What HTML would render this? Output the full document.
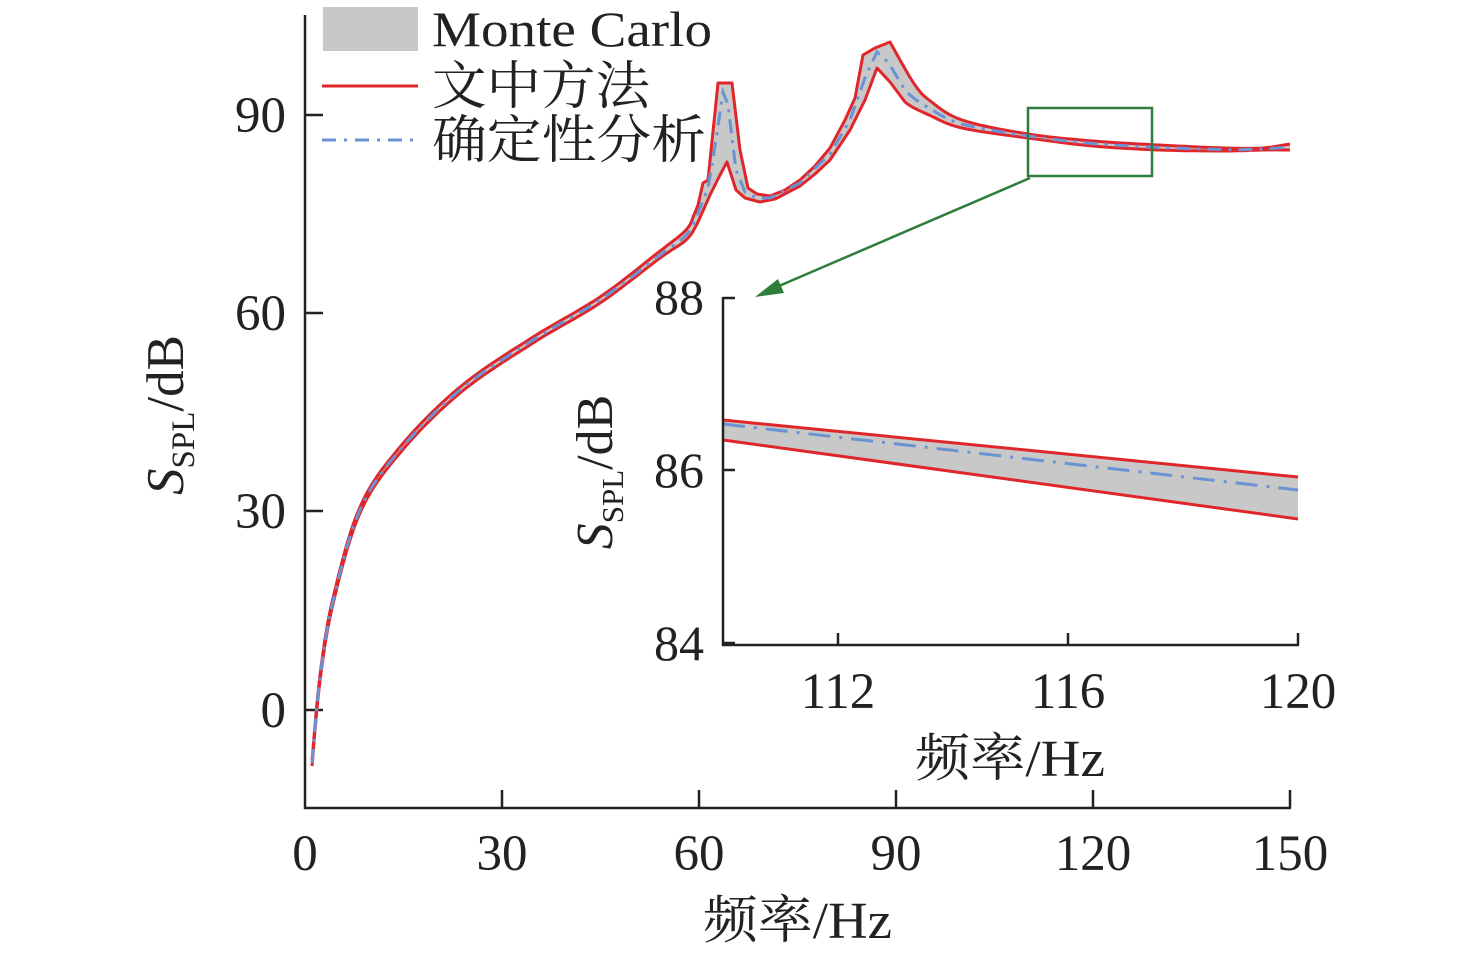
<!DOCTYPE html>
<html><head><meta charset="utf-8"><style>
html,body{margin:0;padding:0;background:#fff;}
svg{display:block;}
text{font-family:"Liberation Serif","Noto Serif CJK SC",serif;fill:#222;}
</style></head><body>
<svg id="s" width="1476" height="957" viewBox="0 0 1476 957" xmlns="http://www.w3.org/2000/svg">
<g stroke="#222" stroke-width="2.5" fill="none">
<line x1="305" y1="15" x2="305" y2="809"/>
<line x1="304" y1="808" x2="1291" y2="808"/>
<line x1="502" y1="808" x2="502" y2="790"/>
<line x1="699" y1="808" x2="699" y2="790"/>
<line x1="896" y1="808" x2="896" y2="790"/>
<line x1="1093" y1="808" x2="1093" y2="790"/>
<line x1="1290" y1="808" x2="1290" y2="790"/>
<line x1="305" y1="710" x2="323" y2="710"/>
<line x1="305" y1="511" x2="323" y2="511"/>
<line x1="305" y1="313" x2="323" y2="313"/>
<line x1="305" y1="115" x2="323" y2="115"/>
</g>
<g font-size="51" text-anchor="middle">
<text x="305" y="870">0</text><text x="502" y="870">30</text><text x="699" y="870">60</text>
<text x="896" y="870">90</text><text x="1093" y="870">120</text><text x="1290" y="870">150</text>
</g>
<g font-size="51" text-anchor="end">
<text x="286" y="727">0</text><text x="286" y="528">30</text><text x="286" y="330">60</text><text x="286" y="132">90</text>
</g>
<text x="703" y="938" font-size="52" textLength="189" lengthAdjust="spacingAndGlyphs">频率/Hz</text>
<text transform="translate(183,415) rotate(-90)" font-size="53" text-anchor="middle"><tspan font-style="italic">S</tspan><tspan font-size="33" dy="11">SPL</tspan><tspan dy="-11">/dB</tspan></text>
<g id="curves"></g>
<rect x="323" y="7" width="95" height="44" fill="#c8c8c8"/>
<text x="432" y="46" font-size="50" textLength="280" lengthAdjust="spacingAndGlyphs">Monte Carlo</text>
<line x1="322" y1="86" x2="418" y2="86" stroke="#e0262b" stroke-width="3"/>
<text x="432" y="104" font-size="52" textLength="218" lengthAdjust="spacingAndGlyphs">文中方法</text>
<line x1="322" y1="140" x2="418" y2="140" stroke="#6a93d4" stroke-width="3" stroke-dasharray="14,8,3,8"/>
<text x="432" y="158" font-size="52" textLength="274" lengthAdjust="spacingAndGlyphs">确定性分析</text>
<rect x="1028" y="108" width="124" height="68" fill="none" stroke="#2e7d3a" stroke-width="2.5"/>
<line x1="1030" y1="178" x2="772" y2="289" stroke="#2e7d3a" stroke-width="2.5"/>
<polygon points="755,297 778,279 784,293" fill="#2e7d3a"/>
<rect x="724" y="298" width="575" height="346" fill="#fff"/>
<polygon points="723,420 1298,477 1298,519 723,440" fill="#c8c8c8"/>
<line x1="723" y1="420" x2="1298" y2="477" stroke="#e0262b" stroke-width="3"/>
<line x1="723" y1="440" x2="1298" y2="519" stroke="#e0262b" stroke-width="3"/>
<line x1="723" y1="424" x2="1298" y2="490" stroke="#6a93d4" stroke-width="3" stroke-dasharray="22,9,3,9"/>
<g stroke="#222" stroke-width="2.5" fill="none">
<line x1="723" y1="297" x2="723" y2="646"/>
<line x1="722" y1="645" x2="1299" y2="645"/>
<line x1="838" y1="645" x2="838" y2="633"/>
<line x1="1068" y1="645" x2="1068" y2="633"/>
<line x1="1298" y1="645" x2="1298" y2="633"/>
<line x1="723" y1="298" x2="735" y2="298"/>
<line x1="723" y1="470" x2="735" y2="470"/>
<line x1="723" y1="643" x2="735" y2="643"/>
</g>
<g font-size="50" text-anchor="end">
<text x="704" y="314">88</text><text x="704" y="487">86</text><text x="704" y="660">84</text>
</g>
<g font-size="51" text-anchor="middle">
<text x="838" y="708">112</text><text x="1068" y="708">116</text><text x="1298" y="708">120</text>
</g>
<text x="915" y="776" font-size="52" textLength="190" lengthAdjust="spacingAndGlyphs">频率/Hz</text>
<text transform="translate(612,472) rotate(-90)" font-size="52" text-anchor="middle"><tspan font-style="italic">S</tspan><tspan font-size="31" dy="11">SPL</tspan><tspan dy="-11">/dB</tspan></text>
</svg>
<script>
var U=[[312,760],[320,675],[333,598],[360,507],[400,447],[460,387],[533,337],[600,297],[660,251],[686,230],[694,215],[698,205],[703,183],[708,180],[718,83],[732,83],[740,150],[748,188],[757,194],[770,196],[785,190],[800,180],[815,166],[830,148],[845,120],[855,98],[863,55],[875,48],[890,42],[900,60],[915,85],[929,100],[962,120],[1028,134],[1093,141],[1159,145],[1225,148],[1262,148],[1290,144]];
var L=[[312,766],[320,681],[333,604],[360,513],[400,453],[460,393],[533,343],[600,303],[660,258],[686,240],[698,222],[710,195],[720,175],[727,162],[736,190],[745,198],[760,202],[775,199],[800,186],[815,174],[830,160],[850,130],[865,100],[877,68],[890,82],[905,102],[929,115],[962,128],[1028,138],[1093,146],[1159,150],[1225,151],[1262,150],[1290,150]];
var C=[[312,763],[320,678],[333,601],[360,510],[400,450],[460,390],[533,340],[600,300],[660,255],[686,235],[698,213],[708,188],[716,140],[723,92],[728,105],[736,170],[745,192],[757,198],[770,198],[800,183],[830,154],[850,120],[866,75],[877,52],[888,62],[905,90],[929,108],[962,124],[1028,136],[1093,143.5],[1159,147.5],[1225,149.5],[1262,149],[1290,147]];
function cr(pts){var o=[];for(var i=0;i<pts.length-1;i++){var p0=pts[Math.max(0,i-1)],p1=pts[i],p2=pts[i+1],p3=pts[Math.min(pts.length-1,i+2)];
if(p1[0]>=690&&p2[0]<=905){o.push(p1);continue;}
for(var t=0;t<1;t+=0.1){var t2=t*t,t3=t2*t;var f=function(a,b,c,d){return 0.5*(2*b+(-a+c)*t+(2*a-5*b+4*c-d)*t2+(-a+3*b-3*c+d)*t3)};o.push([f(p0[0],p1[0],p2[0],p3[0]),f(p0[1],p1[1],p2[1],p3[1])]);}}o.push(pts[pts.length-1]);return o;}
function s(a){return a.map(function(p){return p[0].toFixed(1)+","+p[1].toFixed(1)}).join(" ")}
var u=cr(U),l=cr(L),c=cr(C);
var g='<polygon points="'+s(u)+' '+s(l.slice().reverse())+'" fill="#c8c8c8"/>';
g+='<polyline points="'+s(u)+'" fill="none" stroke="#e0262b" stroke-width="3" stroke-linejoin="round"/>';
g+='<polyline points="'+s(l)+'" fill="none" stroke="#e0262b" stroke-width="3" stroke-linejoin="round"/>';
g+='<polyline points="'+s(c)+'" fill="none" stroke="#6a93d4" stroke-width="3" stroke-dasharray="14,7,3,7"/>';
document.getElementById("curves").innerHTML=g;
</script>
</body></html>
